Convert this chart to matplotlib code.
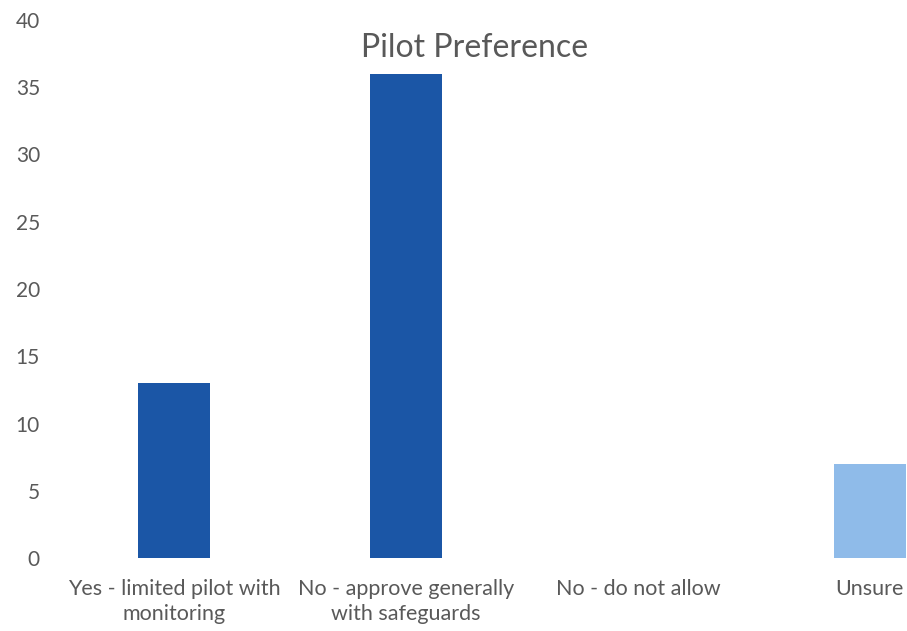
import matplotlib.pyplot as plt

categories = ["Yes - limited pilot with\nmonitoring", "No - approve generally\nwith safeguards",
              "No - do not allow", "Unsure"]
counts = [13, 36, 0, 7]
bar_colors = ["#1b56a6", "#1b56a6", "#1b56a6", "#8fbbe9"]
y_ticks = [0, 5, 10, 15, 20, 25, 30, 35, 40]

plt.rcParams['font.family'] = ['Lato', 'DejaVu Sans']

fig = plt.figure(figsize=(9.07, 6.31), dpi=100)
# axes runs past the right edge, the reference is cropped there
ax = fig.add_axes([58 / 907, 73 / 631, 849 / 907, 538 / 631])

x = range(len(categories))
ax.bar(x, counts, width=0.31, color=bar_colors)

ax.set_xlim(-0.5, 3.16)
ax.set_ylim(0, 40)
ax.set_yticks(y_ticks)
ax.set_xticks(list(x))
ax.set_xticklabels(categories, fontsize=15.5, color="#595959", linespacing=1.35)
ax.tick_params(axis='y', labelsize=15, labelcolor="#595959", length=0, pad=13)
ax.tick_params(axis='x', length=0, pad=15)
for s in ax.spines.values():
    s.set_visible(False)

fig.text(475 / 907, 1 - 48 / 631, "Pilot Preference", fontsize=23, color="#595959",
         ha='center', va='center')

fig.savefig("out.png", dpi=100)
